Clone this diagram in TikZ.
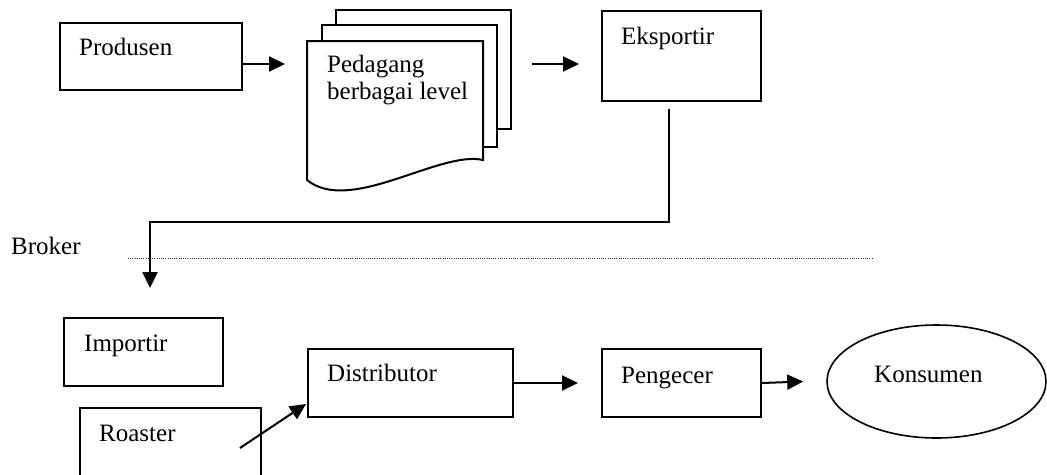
\documentclass[tikz,border=0pt]{standalone}
\usepackage{fontspec}
\setmainfont{Liberation Serif}
\usetikzlibrary{arrows.meta,shapes.geometric,calc}

\begin{document}
\begin{tikzpicture}[x=1pt,y=-1pt,
  box/.style={draw, line width=2pt, anchor=north west, inner sep=0pt},
  lbl/.style={anchor=base west, inner sep=0pt, font=\fontsize{25}{27}\selectfont},
  page/.style={draw, line width=2pt, fill=white, line join=miter},
  arr/.style={line width=2pt, -{Triangle[length=16pt,width=15pt]}},
  guide/.style={line width=0.9pt, dash pattern=on 1pt off 1.2pt, black!80}]
\useasboundingbox (0,0) rectangle (1047,474);

% --- upper row: producers, traders, exporter
\node[box, minimum width=182pt, minimum height=67pt] (produsen) at (59,22) {};
\node[lbl] (produsen-t) at ($(produsen.north west)+(20,33)$) {Produsen};

% stacked document (traders at several levels)
\draw[page] (336,10) rectangle (511,129);
\draw[page] (322,25) rectangle (497,147);
\draw[page] (307,41) -- (483,41) -- (483,160)
  .. controls (440,150) and (350,215) .. (307,180) -- cycle;
\node[lbl, align=left] (pedagang) at (327,99) {Pedagang\\berbagai level};

\node[box, minimum width=159pt, minimum height=90pt] (eksportir) at (601,10) {};
\node[lbl] (eksportir-t) at ($(eksportir.north west)+(20,34)$) {Eksportir};

\coordinate (p1) at (241,64);
\coordinate (p2) at (285,64);
\coordinate (d1) at (532,64);
\coordinate (d2) at (579,64);
\draw[arr] (p1) -- (p2);
\draw[arr] (d1) -- (d2);

% --- broker level
\node[lbl] (broker) at (11,254) {Broker};
\coordinate (brk-l) at (128,258);
\coordinate (brk-r) at (872,258);
\draw[guide] (brk-l) -- (brk-r);

\coordinate (e1) at (669,109);
\coordinate (e2) at (669,222);
\coordinate (e3) at (150,222);
\coordinate (imp-in) at (150,288);
\draw[arr, line join=miter] (e1) -- (e2) -- (e3) -- (imp-in);

% --- lower row: importer, roaster, distributor, retailer, consumer
\node[box, minimum width=159pt, minimum height=68pt] (importir) at (63,317) {};
\node[lbl] (importir-t) at ($(importir.north west)+(21,34)$) {Importir};

\node[box, minimum width=181pt, minimum height=90pt] (roaster) at (79,407) {};
\node[lbl] (roaster-t) at ($(roaster.north west)+(20,34)$) {Roaster};

\node[box, minimum width=205pt, minimum height=68pt] (distributor) at (307,348) {};
\node[lbl] (distributor-t) at ($(distributor.north west)+(20,33)$) {Distributor};

\node[box, minimum width=159pt, minimum height=68pt] (pengecer) at (601,348) {};
\node[lbl] (pengecer-t) at ($(pengecer.north west)+(20,35)$) {Pengecer};

\node[draw, ellipse, line width=1.6pt, minimum width=219pt, minimum height=113pt,
  inner sep=0pt] (konsumen) at (936.5,381.5) {};
\node[lbl] (konsumen-t) at (874,382) {Konsumen};

\coordinate (r1) at (240,448);
\coordinate (r2) at (306,404);
\draw[arr] (r1) -- (r2);
\draw[arr] (distributor.east) -- ($(pengecer.west)+(-23,0)$);
\draw[arr] (pengecer.east) -- ($(konsumen.west)+(-23,0)$);
\end{tikzpicture}
\end{document}
